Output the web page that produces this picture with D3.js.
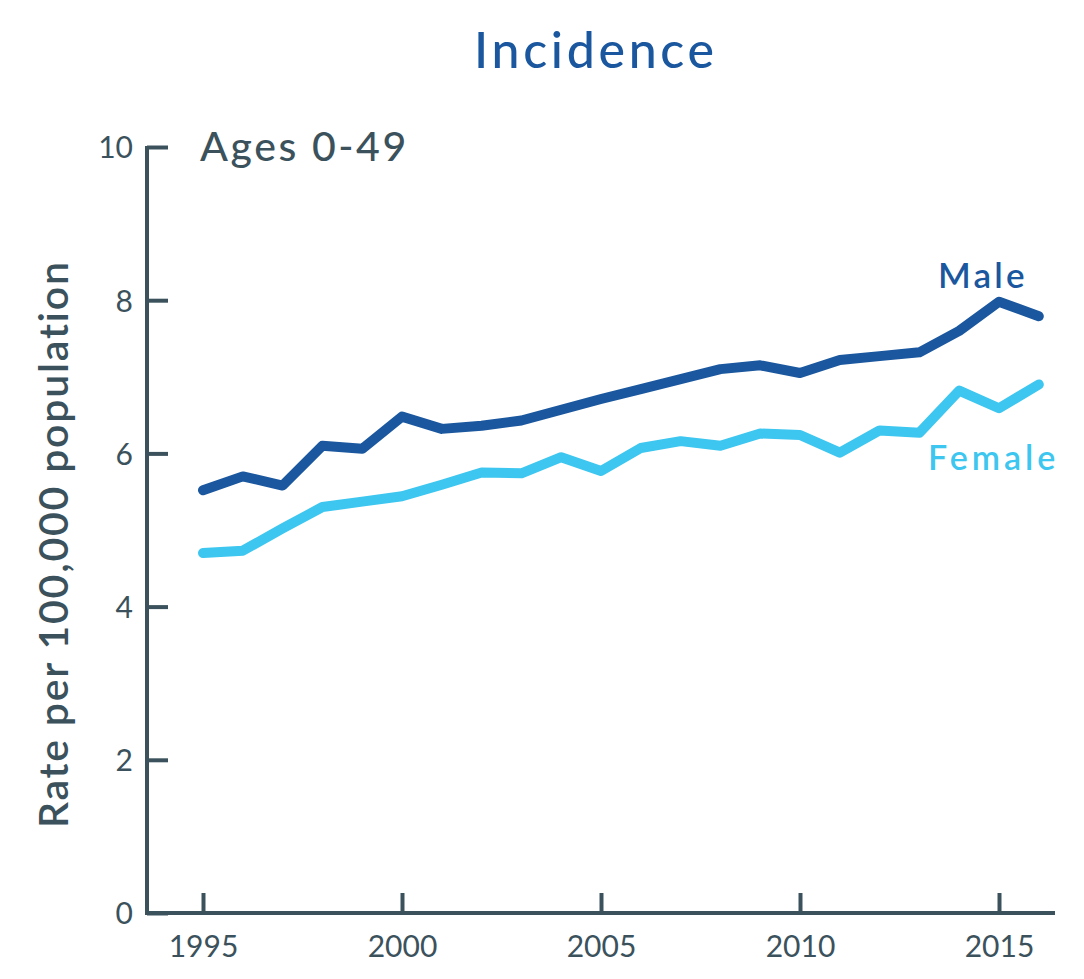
<!DOCTYPE html>
<html><head><meta charset="utf-8">
<script src="https://cdn.jsdelivr.net/npm/d3@7"></script>
<style>body{margin:0;background:#fff;} svg{display:block;font-family:Lato,"Open Sans",sans-serif;}</style>
</head><body>
<svg id="c" width="1084" height="979"></svg>
<script>
const years = [1995,1996,1997,1998,1999,2000,2001,2002,2003,2004,2005,2006,2007,2008,2009,2010,2011,2012,2013,2014,2015,2016];
const male = [5.52,5.70,5.58,6.10,6.06,6.48,6.32,6.36,6.43,6.57,6.71,6.84,6.97,7.10,7.15,7.05,7.22,7.27,7.32,7.60,7.98,7.79];
const female = [4.70,4.73,5.02,5.30,5.37,5.44,5.59,5.75,5.74,5.95,5.77,6.07,6.16,6.10,6.26,6.24,6.01,6.30,6.27,6.82,6.59,6.90];
const xTicks = [1995,2000,2005,2010,2015];
const yTicks = [0,2,4,6,8,10];
const colMale = "#1a579e", colFemale = "#3dc6ef", axisCol = "#3b525c";

const svg = d3.select("#c");
const x = d3.scaleLinear().domain([1995,2015]).range([203,999]);
const y = d3.scaleLinear().domain([0,10]).range([913,147]);

// axes
const xAxis = svg.append("g").attr("transform","translate(0,913)")
  .call(d3.axisBottom(x).tickValues(xTicks).tickFormat(d3.format("d")).tickSizeInner(-20).tickSizeOuter(0));
xAxis.select(".domain").remove();
xAxis.append("line").attr("x1",146).attr("x2",1055).attr("y1",0).attr("y2",0);
xAxis.selectAll(".tick text").attr("y",44).attr("dy",null);
const yAxis = svg.append("g").attr("transform","translate(147,0)")
  .call(d3.axisLeft(y).tickValues(yTicks).tickSizeInner(-21).tickSizeOuter(0));
yAxis.select(".domain").remove();
yAxis.append("line").attr("x1",0).attr("x2",0).attr("y1",146).attr("y2",915);
yAxis.selectAll(".tick text").attr("x",-14).attr("dy","0.36em");
svg.selectAll("g line").attr("stroke",axisCol).attr("stroke-width",4);
svg.selectAll("g .tick text").attr("fill",axisCol).attr("font-size",30).attr("font-family","Lato, sans-serif");

// lines
const line = d3.line().x((d,i)=>x(years[i])).y(d=>y(d));
svg.append("path").datum(female).attr("d",line).attr("fill","none").attr("stroke",colFemale)
  .attr("stroke-width",10).attr("stroke-linecap","round").attr("stroke-linejoin","round");
svg.append("path").datum(male).attr("d",line).attr("fill","none").attr("stroke",colMale)
  .attr("stroke-width",10).attr("stroke-linecap","round").attr("stroke-linejoin","round");

// texts
svg.append("text").attr("x",474).attr("y",68).attr("fill",colMale)
  .attr("font-size",50).attr("font-weight",500).attr("letter-spacing",3.7).text("Incidence");
svg.append("text").attr("x",200).attr("y",161).attr("fill",axisCol)
  .attr("font-size",41).attr("font-weight",500).attr("letter-spacing",2.6).text("Ages 0-49");
svg.append("text").attr("transform","translate(68,828) rotate(-90)")
  .attr("fill",axisCol).attr("font-size",41).attr("font-weight",600).attr("letter-spacing",1.8).text("Rate per 100,000 population");
svg.append("text").attr("x",938).attr("y",288).attr("fill",colMale)
  .attr("font-size",35).attr("font-weight",600).attr("letter-spacing",3.2).text("Male");
svg.append("text").attr("x",928).attr("y",470).attr("fill",colFemale)
  .attr("font-size",34).attr("font-weight",600).attr("letter-spacing",4).text("Female");
</script>
</body></html>
